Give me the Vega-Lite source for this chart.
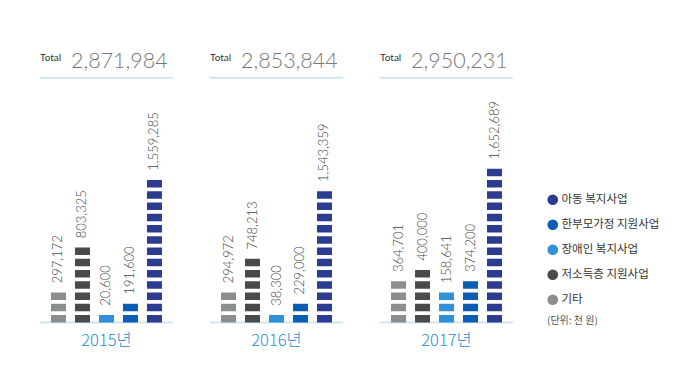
{
  "$schema": "https://vega.github.io/schema/vega-lite/v6.json",
  "width": 473,
  "height": 247.5,
  "autosize": {"type": "none"},
  "padding": {"left": 40, "top": 75, "right": 177, "bottom": 55.5},
  "background": "white",
  "config": {"view": {"stroke": null}, "font": "Noto Sans CJK KR"},
  "datasets": {
    "bars": [
      {"year": "2015", "category": "기타", "value": 297172, "blocks": 3},
      {"year": "2015", "category": "저소득층 지원사업", "value": 803325, "blocks": 7},
      {"year": "2015", "category": "장애인 복지사업", "value": 20600, "blocks": 1},
      {"year": "2015", "category": "한부모가정 지원사업", "value": 191600, "blocks": 2},
      {"year": "2015", "category": "아동 복지사업", "value": 1559285, "blocks": 13},
      {"year": "2016", "category": "기타", "value": 294972, "blocks": 3},
      {"year": "2016", "category": "저소득층 지원사업", "value": 748213, "blocks": 6},
      {"year": "2016", "category": "장애인 복지사업", "value": 38300, "blocks": 1},
      {"year": "2016", "category": "한부모가정 지원사업", "value": 229000, "blocks": 2},
      {"year": "2016", "category": "아동 복지사업", "value": 1543359, "blocks": 12},
      {"year": "2017", "category": "기타", "value": 364701, "blocks": 4},
      {"year": "2017", "category": "저소득층 지원사업", "value": 400000, "blocks": 5},
      {"year": "2017", "category": "장애인 복지사업", "value": 158641, "blocks": 3},
      {"year": "2017", "category": "한부모가정 지원사업", "value": 374200, "blocks": 4},
      {"year": "2017", "category": "아동 복지사업", "value": 1652689, "blocks": 14}
    ],
    "totals": [
      {"year": "2015", "total": 2871984},
      {"year": "2016", "total": 2853844},
      {"year": "2017", "total": 2950231}
    ]
  },
  "layer": [
    {
      "data": {"name": "totals"},
      "mark": {"type": "tick", "size": 133, "thickness": 1.5, "color": "#a9d3f0", "orient": "horizontal"},
      "encoding": {
        "x": {
          "field": "year", "type": "nominal",
          "scale": {"paddingInner": 0.218, "paddingOuter": 0},
          "axis": {"title": null, "domain": false, "ticks": false, "labelExpr": "datum.value + '년'", "labelFontSize": 16.5, "labelColor": "#2a8cd6", "labelPadding": 10, "labelAngle": 0, "labelFont": "Noto Sans CJK KR", "labelFontWeight": 300}
        },
        "y": {"datum": 0, "type": "quantitative", "scale": {"domain": [0, 22], "nice": false, "zero": true}, "axis": null}
      }
    },
    {
      "data": {"name": "totals"},
      "mark": {"type": "tick", "size": 133, "thickness": 1.5, "color": "#a9d3f0", "orient": "horizontal"},
      "encoding": {
        "x": {"field": "year", "type": "nominal"},
        "y": {"datum": 21.75, "type": "quantitative"}
      }
    },
    {
      "data": {"name": "bars"},
      "mark": {"type": "rule", "strokeWidth": 15, "strokeDash": [7.5, 3.75], "strokeDashOffset": 7.5, "strokeCap": "butt"},
      "encoding": {
        "x": {"field": "year", "type": "nominal"},
        "xOffset": {
          "field": "category", "type": "nominal",
          "sort": ["기타", "저소득층 지원사업", "장애인 복지사업", "한부모가정 지원사업", "아동 복지사업"],
          "scale": {"paddingInner": 0.375, "paddingOuter": 0.458}
        },
        "y": {"field": "blocks", "type": "quantitative"},
        "y2": {"datum": 0},
        "color": {
          "field": "category", "type": "nominal",
          "scale": {
            "domain": ["아동 복지사업", "한부모가정 지원사업", "장애인 복지사업", "저소득층 지원사업", "기타"],
            "range": ["#2c3d91", "#0b5eb4", "#3090d8", "#4a4a4a", "#8a8e8e"]
          },
          "legend": {
            "orient": "none", "legendX": 507, "legendY": 119,
            "title": "(단위: 천 원)", "titleOrient": "bottom", "titleFontSize": 10, "titleFontWeight": "normal",
            "titleColor": "#555", "titleFont": "Noto Sans CJK KR", "titlePadding": 11, "titleAnchor": "start",
            "symbolType": "circle", "symbolSize": 115, "symbolStrokeWidth": 0, "symbolOpacity": 1,
            "labelFont": "Noto Sans CJK KR", "labelFontSize": 11.5, "labelColor": "#333", "labelOffset": 3,
            "rowPadding": 12, "padding": 0,
            "encode": {"symbols": {"update": {"fill": {"scale": "color", "field": "value"}, "stroke": {"value": "transparent"}}}}
          }
        }
      }
    },
    {
      "data": {"name": "bars"},
      "mark": {"type": "text", "angle": 270, "align": "left", "baseline": "middle", "dx": 5.5, "fontSize": 13, "font": "Lato", "fontWeight": 300, "color": "#444"},
      "encoding": {
        "x": {"field": "year", "type": "nominal"},
        "xOffset": {"field": "category", "type": "nominal", "sort": ["기타", "저소득층 지원사업", "장애인 복지사업", "한부모가정 지원사업", "아동 복지사업"]},
        "y": {"field": "blocks", "type": "quantitative"},
        "text": {"field": "value", "type": "quantitative", "format": ","}
      }
    },
    {
      "data": {"name": "totals"},
      "mark": {"type": "text", "align": "left", "baseline": "alphabetic", "dy": -17, "fontSize": 10, "font": "Lato", "color": "#333", "text": "Total"},
      "encoding": {
        "x": {"field": "year", "type": "nominal", "bandPosition": 0},
        "y": {"datum": 21.75, "type": "quantitative"}
      }
    },
    {
      "data": {"name": "totals"},
      "mark": {"type": "text", "align": "left", "baseline": "alphabetic", "dx": 31, "dy": -10, "fontSize": 21.5, "font": "Lato", "fontWeight": 300, "color": "#777"},
      "encoding": {
        "x": {"field": "year", "type": "nominal", "bandPosition": 0},
        "y": {"datum": 21.75, "type": "quantitative"},
        "text": {"field": "total", "type": "quantitative", "format": ","}
      }
    }
  ]
}
